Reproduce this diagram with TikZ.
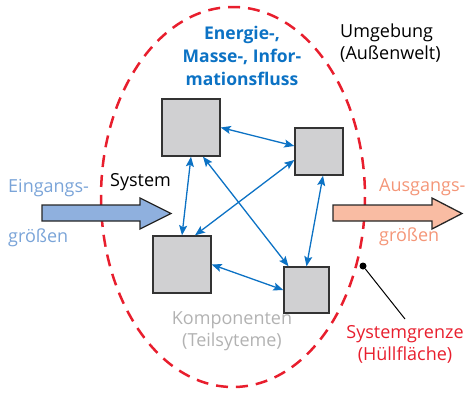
\documentclass[tikz,border=0pt]{standalone}
\usepackage{fontspec}
\setmainfont{Open Sans}
\usetikzlibrary{arrows.meta}
\definecolor{flowblue}{RGB}{12,114,196}
\definecolor{inblue}{RGB}{122,164,216}
\definecolor{infill}{RGB}{143,176,222}
\definecolor{outred}{RGB}{244,150,120}
\definecolor{outfill}{RGB}{249,188,163}
\definecolor{grenzred}{RGB}{232,30,45}
\definecolor{boxgray}{RGB}{208,208,210}

\begin{document}
\begin{tikzpicture}[
  x=1pt, y=-1pt,
  >={Stealth[length=10pt,width=8pt,inset=2pt]},
  every node/.style={font=\fontsize{18}{22}\selectfont, inner sep=0pt},
  box/.style={draw=black!80, fill=boxgray, line width=1.4pt},
  flow/.style={<->, flowblue, line width=1.3pt},
  grenze/.style={grenzred, line width=2.5pt, dash pattern=on 12pt off 8pt},
  blockarrow/.style={draw=black!85, line width=1.3pt, line join=miter}
  ]
\useasboundingbox (0,0) rectangle (472,394);
\draw [grenze] (233,197) ellipse [x radius=132, y radius=190];
\node [box, minimum width=58pt, minimum height=57pt] (A) at (191,127.5) {};
\node [box, minimum width=48pt, minimum height=47pt] (B) at (319,151.5) {};
\node [box, minimum width=58pt, minimum height=57pt] (C) at (182,264.5) {};
\node [box, minimum width=45pt, minimum height=46pt] (D) at (306.5,290) {};
\draw [flow] (A.east) -- ([yshift=5.5pt]B.west);
\draw [flow] (A.south) -- (C.north);
\draw [flow] ([xshift=12pt]A.south) -- ([xshift=-18pt]D.north);
\draw [flow] ([yshift=-8.5pt]B.west) -- ([xshift=13pt]C.north);
\draw [flow] ([xshift=4pt]B.south) -- (D.north);
\draw [flow] (C.east) -- (D.west);
\draw [blockarrow, fill=infill] (42,205) -- (140,205) -- (140,198) -- (171,213.5)
  -- (140,229) -- (140,221) -- (42,221) -- cycle;
\draw [blockarrow, fill=outfill] (333,205) -- (432,205) -- (432,198) -- (462,213.5)
  -- (432,229) -- (432,221) -- (333,221) -- cycle;
\node [flowblue, font=\fontsize{17.5}{23}\selectfont\bfseries, align=center] (fluss) at (242,56)
  {Energie-,\\Masse-, Infor-\\mationsfluss};
\node [anchor=west, align=left] (umgebung) at (340,43) {Umgebung\\(Außenwelt)};
\node [anchor=west] (system) at (110,182) {System};
\node [inblue, anchor=west] (ein1) at (8,188) {Eingangs-};
\node [inblue, anchor=west] (ein2) at (8,238) {größen};
\node [outred, anchor=west] (aus1) at (379,187) {Ausgangs-};
\node [outred, anchor=west] (aus2) at (379,237) {größen};
\node [black!30, align=center] (komp) at (232,331) {Komponenten\\(Teilsyteme)};
\node [grenzred, align=center] (grenztext) at (405,344) {Systemgrenze\\(Hüllfläche)};
\node [circle, fill=black, minimum size=7pt] (dot) at (363,266) {};
\coordinate (pin) at (405,319);
\draw [line width=1pt] (dot) -- (pin);
\end{tikzpicture}
\end{document}
